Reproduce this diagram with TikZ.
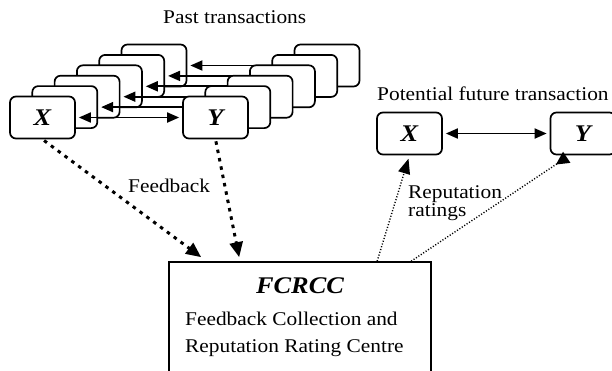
\documentclass[tikz,border=0pt]{standalone}
\usepackage{fontspec}
\setmainfont{Liberation Serif}[FakeStretch=1.1]
\usetikzlibrary{arrows.meta}
\begin{document}
\begin{tikzpicture}[x=1bp,y=-1bp,
  tbox/.style={draw,line width=1.7bp,rounded corners=6bp,fill=white,
    minimum width=65bp,minimum height=42bp,inner sep=0pt,
    font=\fontsize{24}{26}\selectfont\bfseries\itshape},
  txt/.style={inner sep=0pt,anchor=base west,font=\fontsize{19.5}{22}\selectfont},
  tarrow/.style={line width=1.8bp,shorten >=3bp,shorten <=3bp},
  fbarrow/.style={line width=3bp,dash pattern=on 3.5bp off 5bp,
    -{Triangle[length=15bp,width=13bp]},shorten >=0bp,shorten <=2bp},
  rtarrow/.style={line width=1.4bp,dash pattern=on 1.1bp off 1.8bp,shorten >=3.5bp}
]
\useasboundingbox (0,0) rectangle (612,370);

% past transaction stacks (back to front)
\foreach \i in {5,4,3,2,1} {
  \node[tbox] (X\i) at ({42.5+22.3*\i},{117.5-10.4*\i}) {};
  \node[tbox] (Y\i) at ({215.5+22.3*\i},{117.5-10.4*\i}) {};
  \draw[tarrow,-{Triangle[length=12bp,width=10bp]}] (Y\i.west) -- (X\i.east);
}
\node[tbox] (X0) at (42.5,117.5) {X};
\node[tbox] (Y0) at (215.5,117.5) {Y};
\draw[tarrow,{Triangle[length=12bp,width=10bp]}-{Triangle[length=12bp,width=10bp]}] (X0.east) -- (Y0.west);

\node[txt] (past) at (163,23) {Past transactions};

% future transaction
\node[txt] (fut) at (377,100) {Potential future transaction};
\node[tbox] (FX) at (409.5,133.5) {X};
\node[tbox] (FY) at (583,133.5) {Y};
\draw[tarrow,{Triangle[length=12bp,width=10bp]}-{Triangle[length=12bp,width=10bp]}] (FX.east) -- (FY.west);

% centre
\node[draw,line width=1.7bp,minimum width=262bp,minimum height=113bp,inner sep=0pt] (F) at (300,318.5) {};
\node[inner sep=0pt,anchor=base,font=\fontsize{24}{26}\selectfont\bfseries\itshape] (ft) at (300,293) {FCRCC};
\node[txt] (fl1) at (185,325) {Feedback Collection and};
\node[txt] (fl2) at (185,352) {Reputation Rating Centre};

% feedback arrows
\draw[fbarrow] (X0.south) -- ([xshift=33bp,yshift=4bp]F.north west);
\draw[fbarrow] (Y0.south) -- ([xshift=71bp,yshift=4bp]F.north west);
\node[txt] (fb) at (128,192) {Feedback};

% reputation arrows
\draw[rtarrow,-{Triangle[length=15bp,width=12bp]}] ([xshift=209bp]F.north west) -- (FX.south);
\draw[rtarrow,-{Triangle[length=13bp,width=13bp,reversed]}] ([xshift=243bp]F.north west) -- ([xshift=20bp]FY.south west);
\node[txt] (rr1) at (408,198) {Reputation};
\node[txt] (rr2) at (408,216.5) {ratings};
\end{tikzpicture}
\end{document}
